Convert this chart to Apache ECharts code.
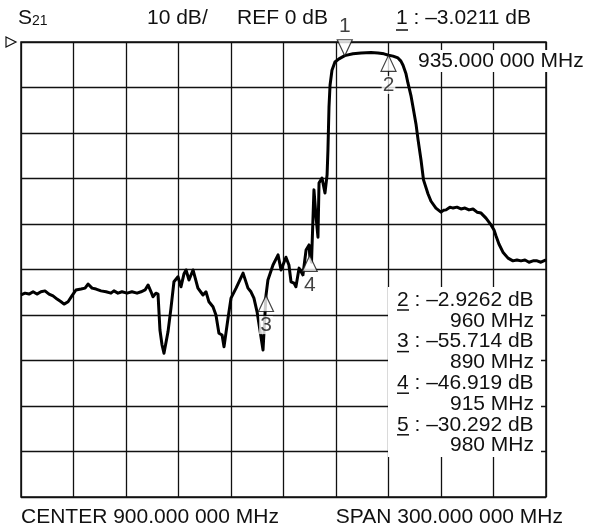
<!DOCTYPE html>
<html><head><meta charset="utf-8">
<script src="https://cdn.jsdelivr.net/npm/echarts@6/dist/echarts.min.js"></script>
<style>html,body{margin:0;padding:0;background:#fff}#c{width:589px;height:531px}</style>
</head><body><div id="c"></div>
<script>
// ---- data ----
const freqMHz = [750,752.3,754.6,756.9,759.1,761.4,763.7,766.0,768.3,770.6,772.9,774.6,776.9,779.1,781.4,784.3,786.6,788.3,790.6,792.9,795.7,798.6,801.4,803.1,805.4,807.7,810.6,813.4,816.3,818.6,820.9,822.6,824.3,825.4,827.1,828.3,829.4,830.6,831.7,834.0,835.7,837.4,839.7,841.4,843.1,844.3,846.0,848.3,851.1,854.0,855.7,857.4,859.7,861.4,863.1,864.9,866.0,868.3,870.0,872.9,876.9,879.7,881.4,883.1,884.9,888.3,890.0,891.1,894.0,896.9,898.6,901.4,903.1,904.3,906.0,907.1,908.9,911.1,912.9,914.6,915.0,916.0,917.4,918.6,919.7,920.3,922.0,922.6,923.7,924.9,925.4,926.0,926.6,927.7,929.4,931.7,935.0,939.7,944.3,950.0,954.0,957.4,960.0,962.6,965.4,967.1,968.3,970.0,971.1,972.9,974.0,975.7,976.9,978.6,980.0,982.6,984.3,987.1,990.0,991.4,992.9,995.1,996.9,999.1,1001.4,1003.7,1006.0,1008.3,1010.6,1012.9,1015.7,1018.6,1020.3,1021.4,1023.1,1025.4,1028.3,1031.1,1033.4,1035.7,1038.0,1040.3,1042.6,1044.9,1047.1,1050];
const s21dB = [-55.6,-55.2,-55.4,-54.9,-55.4,-54.9,-54.7,-55.4,-55.8,-56.5,-57.1,-57.6,-57.1,-55.8,-54.5,-54.3,-54.1,-53.2,-54.1,-54.3,-54.7,-54.9,-55.2,-54.7,-55.2,-54.9,-55.2,-54.9,-55.2,-54.9,-54.5,-53.4,-54.9,-56.0,-55.2,-55.4,-63.3,-66.6,-68.4,-63.7,-58.5,-52.7,-51.6,-53.8,-51.0,-50.1,-52.3,-50.1,-54.1,-55.6,-54.9,-57.1,-58.2,-60.0,-64.0,-64.4,-67.0,-60.7,-56.3,-54.1,-50.8,-54.1,-54.9,-56.3,-59.3,-67.7,-55.7,-52.3,-49.0,-46.8,-50.1,-47.3,-49.0,-52.7,-53.0,-53.8,-49.7,-51.2,-45.7,-44.6,-46.9,-48.4,-32.5,-38.5,-42.9,-31.0,-29.9,-29.7,-33.2,-29.2,-23.7,-14.3,-9.5,-6.2,-4.4,-3.7,-3.0,-2.6,-2.4,-2.3,-2.4,-2.6,-2.9,-3.1,-3.5,-4.2,-5.1,-7.0,-9.0,-11.9,-14.3,-18.0,-21.5,-26.0,-30.3,-33.4,-35.0,-36.5,-37.4,-37.0,-36.9,-36.3,-36.5,-36.3,-36.7,-36.5,-36.9,-36.7,-37.4,-37.6,-38.7,-40.2,-41.3,-42.6,-44.4,-46.2,-47.5,-48.1,-47.9,-48.1,-47.9,-48.4,-48.1,-48.1,-48.4,-47.9];
const markerIds = ['1', '2', '3', '4', '5'];
const markerFreqMHz = [935, 960, 890, 915, 980];
const markerDB = [-3.0211, -2.9262, -55.714, -46.919, -30.292];
const shownMarkers = [0, 1, 2, 3];
const centerMHz = 900, spanMHz = 300;
const refDB = 0, scaleDB = 10, divisions = 10;
const paramName = ['S', '21'];

// ---- helpers ----
const FONT = '"Liberation Sans", Arial, sans-serif';
const FS = 21;
function fmtMHzLong(v) { const s = v.toFixed(6); return s.slice(0, s.length - 3) + ' ' + s.slice(-3) + ' MHz'; }
function fmtDB(v) { return (v < 0 ? '\u2013' : '') + Math.abs(v).toPrecision(5) + ' dB'; }
const xMin = centerMHz - spanMHz / 2, xMax = centerMHz + spanMHz / 2;
const yMax = refDB, yMin = refDB - scaleDB * divisions;

const chart = echarts.init(document.getElementById('c'), null, {renderer: 'canvas'});
const GL = 21, GT = 42, GW = 525, GH = 455;

function txt(text, x, y, align, extra) {
  return Object.assign({type: 'text', z: 20, style: {text: text, x: x, y: y, align: align, textAlign: align,
    verticalAlign: 'middle', textVerticalAlign: 'middle', fill: '#111', font: FS + 'px ' + FONT}}, extra || {});
}
function uline(x, y, w) {
  return {type: 'line', z: 20, shape: {x1: x, y1: y, x2: x + w, y2: y}, style: {stroke: '#111', lineWidth: 1.5}};
}

const graphics = [];
// white boxes behind readouts
graphics.push({type: 'rect', z: 10, shape: {x: 388, y: 287, width: 153, height: 170}, style: {fill: '#fff'}});
graphics.push({type: 'rect', z: 10, shape: {x: 415, y: 50, width: 174, height: 22}, style: {fill: '#fff'}});
// header
graphics.push({type: 'text', z: 20, style: {text: '{a|' + paramName[0] + '}{b|' + paramName[1] + '}', x: 18, y: 18,
  verticalAlign: 'middle', textVerticalAlign: 'middle', rich: {a: {font: FS + 'px ' + FONT, fill: '#111'}, b: {font: '14px ' + FONT, fill: '#111', verticalAlign: 'bottom'}}}});
graphics.push(txt(scaleDB + ' dB/', 147, 18, 'left'));
graphics.push(txt('REF ' + refDB + ' dB', 237, 18, 'left'));
graphics.push(txt(markerIds[0] + ' : ' + fmtDB(markerDB[0]), 396, 18, 'left'));
graphics.push(uline(396, 30, 12));
graphics.push(txt(fmtMHzLong(markerFreqMHz[0]), 418, 61, 'left'));
// marker list
const rowY0 = 300, rowH = 20.8;
for (let k = 1; k < markerIds.length; k++) {
  const y1 = rowY0 + (k - 1) * 2 * rowH;
  graphics.push(txt(markerIds[k] + ' : ' + fmtDB(markerDB[k]), 397, y1, 'left'));
  graphics.push(uline(397, y1 + 10, 12));
  graphics.push(txt(markerFreqMHz[k] + ' MHz', 534, y1 + rowH, 'right'));
}
// footer
graphics.push(txt('CENTER ' + fmtMHzLong(centerMHz), 21, 517, 'left'));
graphics.push(txt('SPAN ' + fmtMHzLong(spanMHz), 563, 517, 'right'));
// reference level pointer
graphics.push({type: 'polygon', z: 20, shape: {points: [[6, 37], [16, 42], [6, 47]]}, style: {fill: '#fff', stroke: '#111', lineWidth: 1.2}});

const markerData = shownMarkers.map(i => ({
  value: [markerFreqMHz[i], markerDB[i]],
  name: markerIds[i],
  symbolRotate: i === 0 ? 180 : 0,
  symbolOffset: i === 0 ? [0, '-50%'] : [0, '50%'],
  label: {position: i === 0 ? 'top' : 'bottom', distance: i === 0 ? 4 : 4}
}));

chart.setOption({
  animation: false,
  backgroundColor: '#fff',
  grid: {left: GL, top: GT, width: GW, height: GH, show: true, borderColor: '#111', borderWidth: 1.5, backgroundColor: 'transparent'},
  xAxis: {type: 'value', min: xMin, max: xMax, interval: spanMHz / divisions,
    axisLine: {show: false}, axisTick: {show: false}, axisLabel: {show: false},
    splitLine: {show: true, lineStyle: {color: '#111', width: 1.3}}},
  yAxis: {type: 'value', min: yMin, max: yMax, interval: scaleDB,
    axisLine: {show: false}, axisTick: {show: false}, axisLabel: {show: false},
    splitLine: {show: true, lineStyle: {color: '#111', width: 1.3}}},
  graphic: {elements: graphics},
  series: [
    {type: 'line', z: 3, data: freqMHz.map((f, i) => [f, s21dB[i]]), showSymbol: false, symbol: 'none',
      lineStyle: {color: '#000', width: 3, join: 'round'}},
    {type: 'scatter', z: 8, data: markerData, symbol: 'triangle', symbolSize: [15, 16],
      itemStyle: {color: '#fff', borderColor: '#111', borderWidth: 1.2},
      label: {show: true, formatter: p => p.name, color: '#111', fontSize: FS, fontFamily: FONT,
        backgroundColor: '#fff', padding: [0, 1], lineHeight: 18}}
  ]
});
</script></body></html>
